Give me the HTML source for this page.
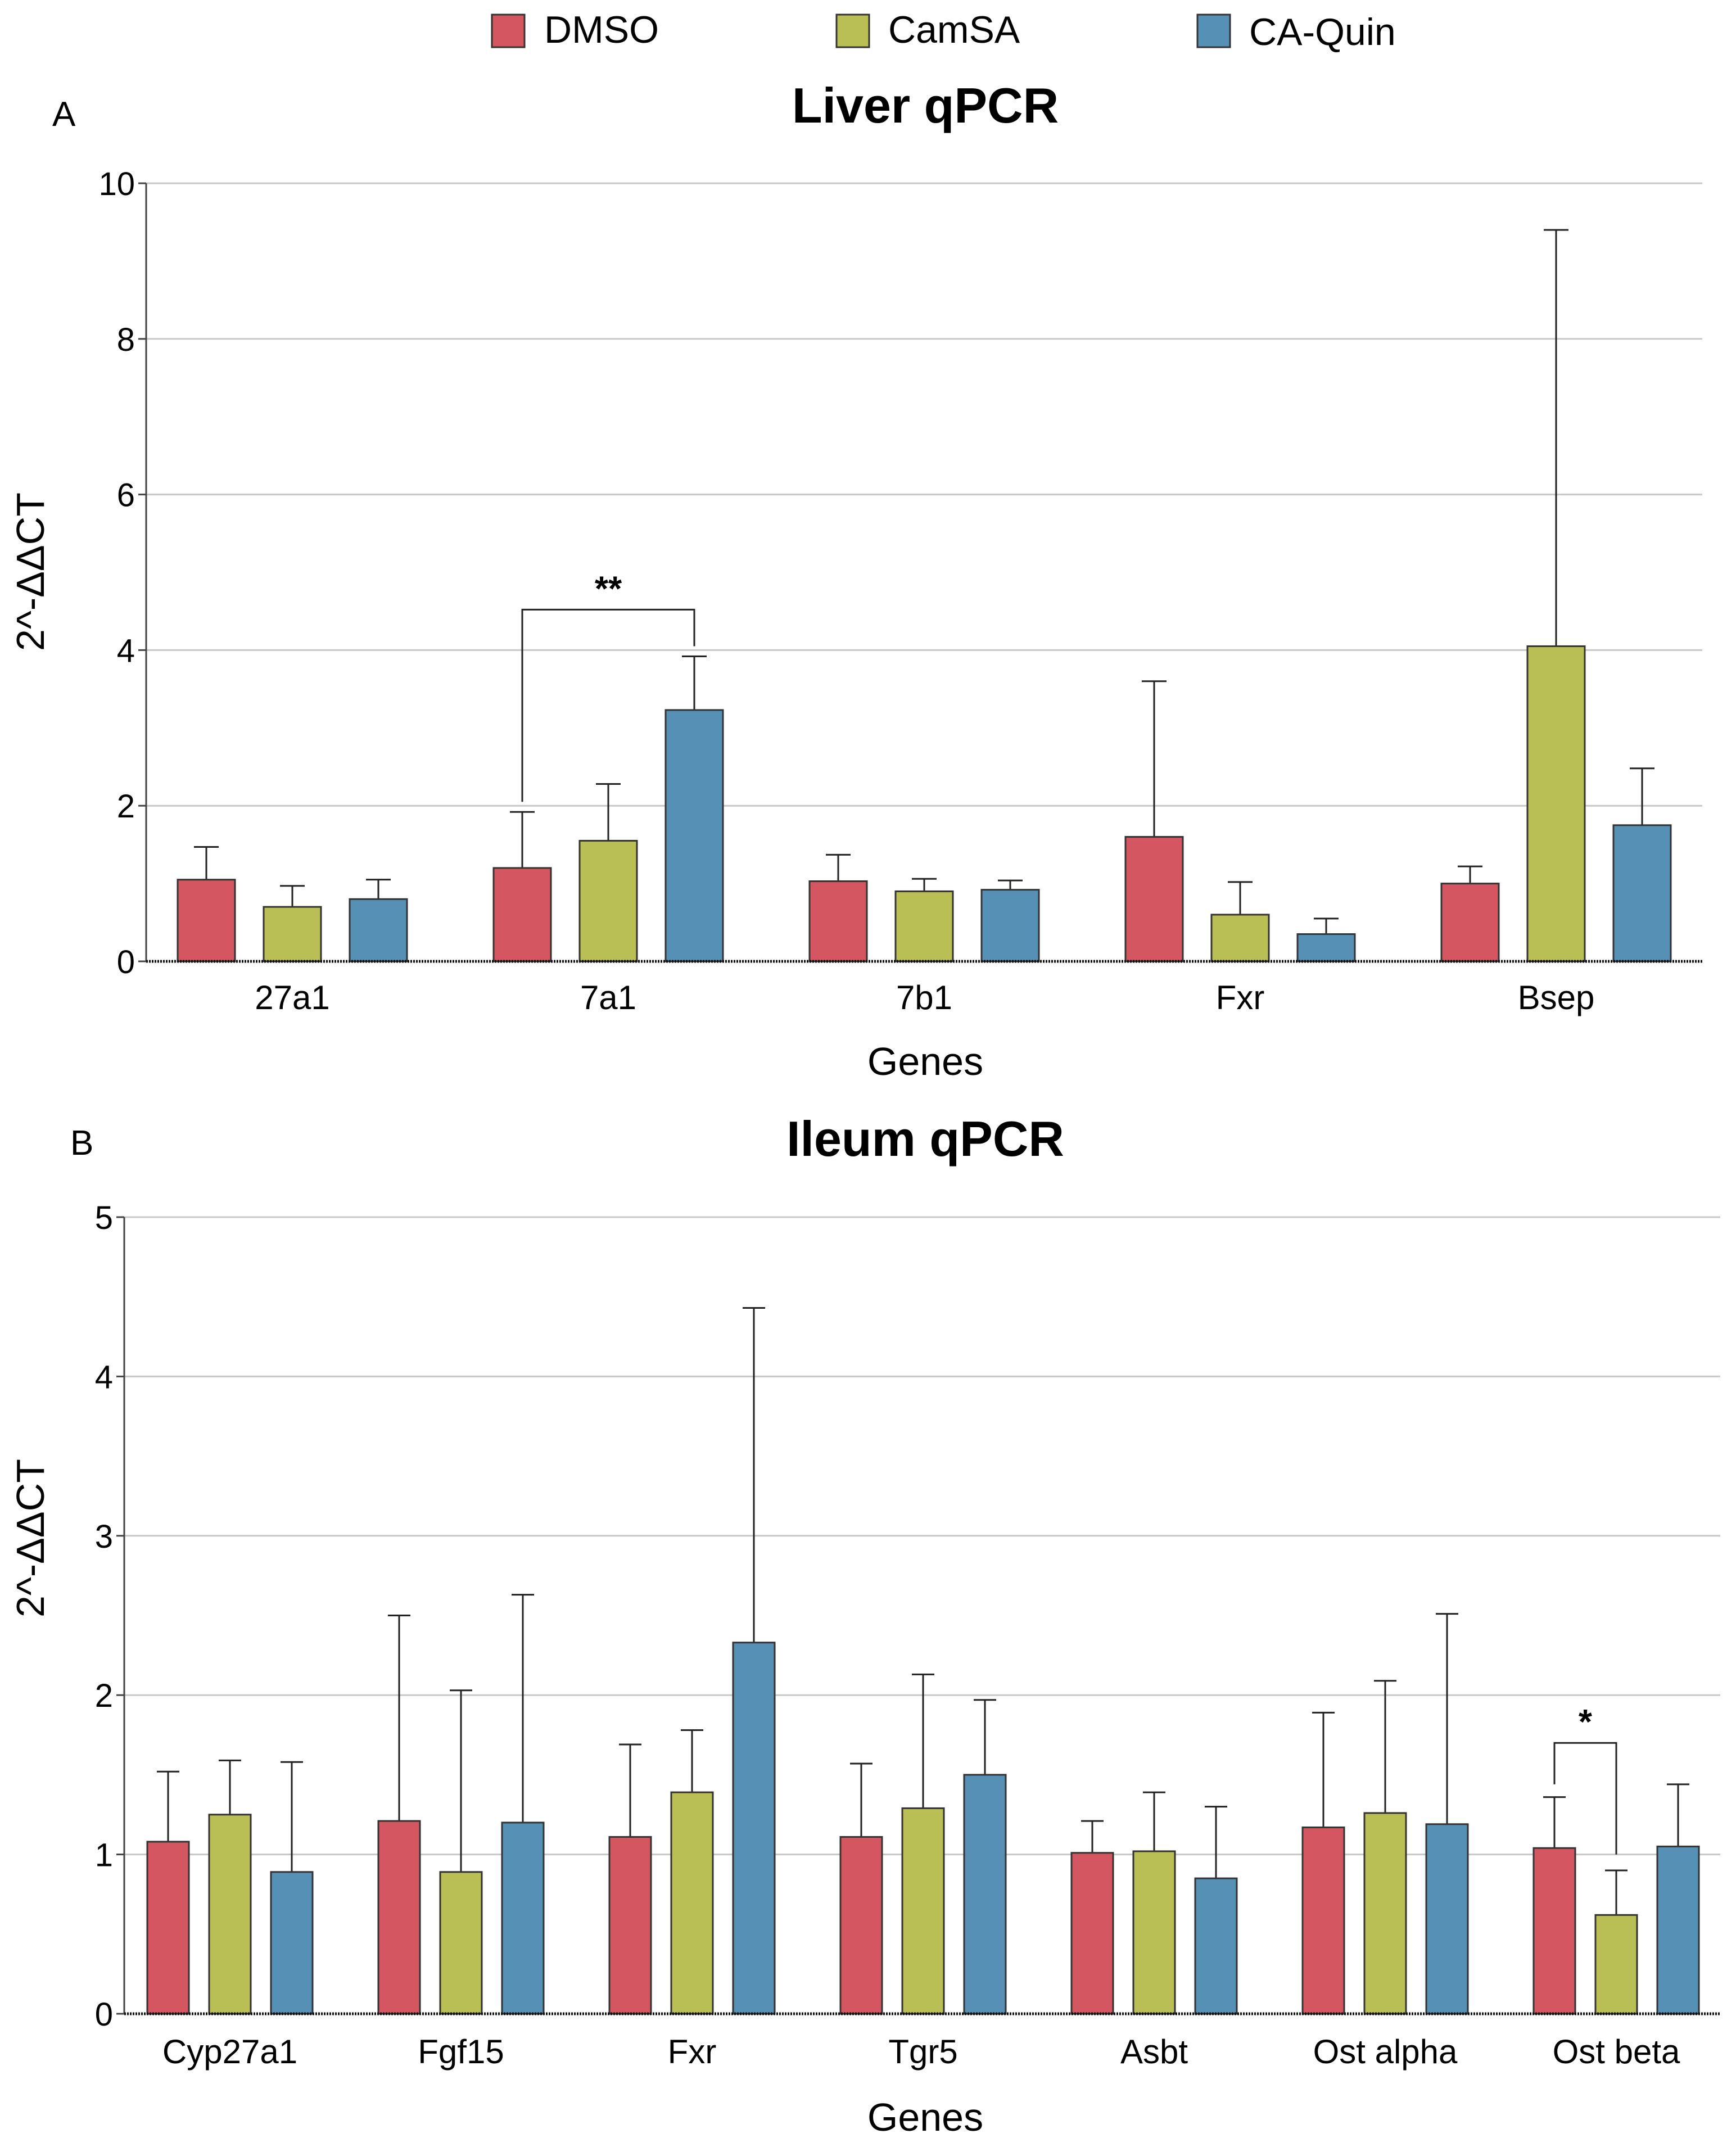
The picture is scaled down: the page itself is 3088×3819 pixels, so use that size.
<!DOCTYPE html>
<html><head><meta charset="utf-8"><style>
html,body{margin:0;padding:0;background:#fff}
svg{display:block;font-family:"Liberation Sans",sans-serif}
</style></head><body>
<svg id="s" width="3088" height="3819" viewBox="0 0 3088 3819">
<g>
<rect x="875" y="26" width="58" height="58" fill="#d35660" stroke="#333" stroke-width="3"/>
<text x="968" y="76" font-size="68">DMSO</text>
<rect x="1488" y="26" width="58" height="58" fill="#b9bf55" stroke="#333" stroke-width="3"/>
<text x="1580" y="76" font-size="68">CamSA</text>
<rect x="2130" y="26" width="58" height="58" fill="#5690b5" stroke="#333" stroke-width="3"/>
<text x="2222" y="80" font-size="68">CA-Quin</text>
</g>
<text x="93" y="224" font-size="62">A</text>
<text x="1646" y="218" font-size="88" font-weight="bold" text-anchor="middle">Liver qPCR</text>
<text x="125" y="2054" font-size="62">B</text>
<text x="1646" y="2056" font-size="88" font-weight="bold" text-anchor="middle">Ileum qPCR</text>
<g id="c1"></g>
<g id="c2"></g>
</svg>
<script>
const liverGenes=["27a1","7a1","7b1","Fxr","Bsep"];
const liverDmso=[1.05,1.2,1.03,1.6,1.0];
const liverDmsoErr=[1.47,1.92,1.37,3.6,1.22];
const liverCamsa=[0.7,1.55,0.9,0.6,4.05];
const liverCamsaErr=[0.97,2.28,1.06,1.02,9.4];
const liverCaq=[0.8,3.23,0.92,0.35,1.75];
const liverCaqErr=[1.05,3.92,1.04,0.55,2.48];
const liverTicks=[0,2,4,6,8,10];
const ileumGenes=["Cyp27a1","Fgf15","Fxr","Tgr5","Asbt","Ost alpha","Ost beta"];
const ileumDmso=[1.08,1.21,1.11,1.11,1.01,1.17,1.04];
const ileumDmsoErr=[1.52,2.5,1.69,1.57,1.21,1.89,1.36];
const ileumCamsa=[1.25,0.89,1.39,1.29,1.02,1.26,0.62];
const ileumCamsaErr=[1.59,2.03,1.78,2.13,1.39,2.09,0.9];
const ileumCaq=[0.89,1.2,2.33,1.5,0.85,1.19,1.05];
const ileumCaqErr=[1.58,2.63,4.43,1.97,1.3,2.51,1.44];
const ileumTicks=[0,1,2,3,4,5];
const NS="http://www.w3.org/2000/svg";
const colors=["#d35660","#b9bf55","#5690b5"];
const snames=["dmso","camsa","caquin"];
function mk(p,t,a){const e=document.createElementNS(NS,t);for(const k in a)e.setAttribute(k,a[k]);p.appendChild(e);return e;}
function chart(g,cfg){
  const y=v=>cfg.y0-(v/cfg.ymax)*(cfg.y0-cfg.ytop);
  const cx=(i,s)=>cfg.c0+i*cfg.band+(s-1)*cfg.gap;
  cfg.ticks.forEach(t=>{
    if(t>0){const l=mk(g,"line",{x1:cfg.xl,x2:cfg.xr,y1:y(t),y2:y(t),stroke:"#c8c8c8","stroke-width":3});
    
    }
    const tk=mk(g,"line",{x1:cfg.xl-14,x2:cfg.xl,y1:y(t),y2:y(t),stroke:"#444","stroke-width":3});
    
    
    const tx=mk(g,"text",{x:cfg.xl-20,y:y(t)+21,"font-size":58,"text-anchor":"end"});tx.textContent=t;
    
    
  });
  const ax=mk(g,"line",{x1:cfg.xl,x2:cfg.xl,y1:cfg.ytop,y2:cfg.y0,stroke:"#444","stroke-width":3});
  
  
  cfg.series.forEach((vals,s)=>{
    vals.forEach((v,i)=>{
      const x=cx(i,s),top=cfg.errs[s][i];
      const el=mk(g,"line",{x1:x,x2:x,y1:y(top),y2:y(v),stroke:"#222","stroke-width":3});
      
      
      const cap=mk(g,"line",{x1:x-cfg.cap,x2:x+cfg.cap,y1:y(top),y2:y(top),stroke:"#222","stroke-width":3});
      
      
      const r=mk(g,"rect",{x:x-cfg.bw/2,y:y(v),width:cfg.bw,height:y(0)-y(v),fill:colors[s],stroke:"#333","stroke-width":3});
      
      
    });
  });
  const base=mk(g,"line",{x1:cfg.xl,x2:cfg.xr,y1:cfg.y0,y2:cfg.y0,stroke:"#111","stroke-width":5,"stroke-dasharray":"3 2"});
  
  
  cfg.cats.forEach((c,i)=>{
    const t=mk(g,"text",{x:cx(i,1),y:cfg.labY,"font-size":60,"text-anchor":"middle"});t.textContent=c;
    
    
  });
  const xt=mk(g,"text",{x:1646,y:cfg.xtY,"font-size":70,"text-anchor":"middle"});xt.textContent="Genes";
  
  
  const yt=mk(g,"text",{x:0,y:0,"font-size":70,"text-anchor":"middle",transform:`translate(78,${cfg.ytY}) rotate(-90)`});yt.textContent="2^-ΔΔCT";
  
  
  const b=cfg.sig;
  const x1=cx(b.i,b.s1),x2=cx(b.i,b.s2);
  const br=mk(g,"polyline",{points:`${x1},${y(b.l)} ${x1},${y(b.h)} ${x2},${y(b.h)} ${x2},${y(b.r)}`,fill:"none",stroke:"#222","stroke-width":3});
  
  
  const st=mk(g,"text",{x:(x1+x2)/2,y:y(b.h)-16,"font-size":62,"font-weight":"bold","text-anchor":"middle"});st.textContent=b.txt;
  
  
}
chart(document.getElementById('c1'),{xl:260,xr:3028,y0:1710,ytop:326,ymax:10,ticks:liverTicks,c0:520,band:562,gap:153,bw:102,cap:22,
 series:[liverDmso,liverCamsa,liverCaq],errs:[liverDmsoErr,liverCamsaErr,liverCaqErr],cats:liverGenes,labY:1795,xtY:1912,ytY:1017,
 sig:{i:1,s1:0,s2:2,l:2.05,h:4.52,r:4.05,txt:"**"}});
chart(document.getElementById('c2'),{xl:221,xr:3060,y0:3582,ytop:2165,ymax:5,ticks:ileumTicks,c0:409,band:411,gap:110,bw:74,cap:20,
 series:[ileumDmso,ileumCamsa,ileumCaq],errs:[ileumDmsoErr,ileumCamsaErr,ileumCaqErr],cats:ileumGenes,labY:3670,xtY:3790,ytY:2736,
 sig:{i:6,s1:0,s2:1,l:1.44,h:1.70,r:1.0,txt:"*"}});
</script>
</body></html>
